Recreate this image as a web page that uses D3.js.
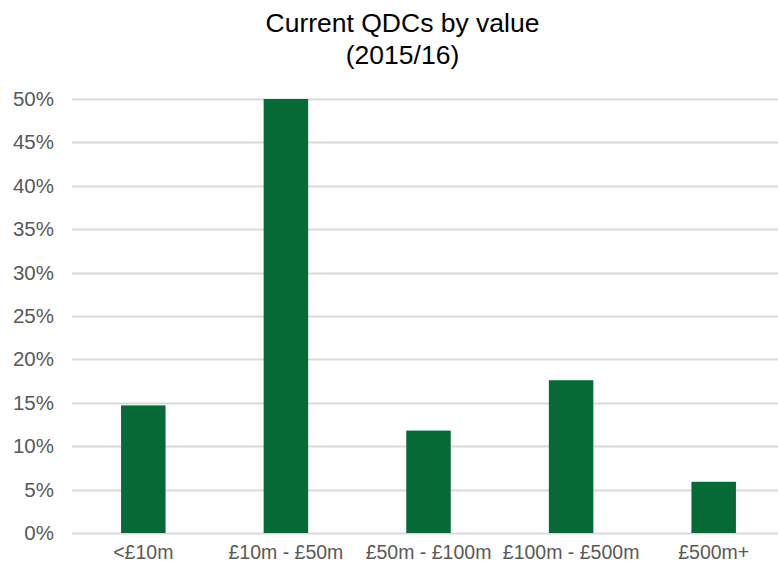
<!DOCTYPE html>
<html>
<head>
<meta charset="utf-8">
<script src="https://cdn.jsdelivr.net/npm/d3@7"></script>
<style>
  html, body { margin: 0; padding: 0; background: #fff; }
  svg { display: block; font-family: "Liberation Sans", Arial, sans-serif; }
</style>
</head>
<body>
<svg id="chart" width="778" height="565"></svg>
<script>
// QDC value bands and the share of current QDCs in each (2015/16)
const categories = ["<£10m", "£10m - £50m", "£50m - £100m", "£100m - £500m", "£500m+"];
const shares = [14.7, 50.0, 11.8, 17.6, 5.9];
const yTicks = [0, 5, 10, 15, 20, 25, 30, 35, 40, 45, 50];
const titleLines = ["Current QDCs by value", "(2015/16)"];

const svg = d3.select("#chart");
const margin = { top: 99, right: -7, bottom: 32, left: 72 };
const width = 778 - margin.left - margin.right;
const height = 565 - margin.top - margin.bottom;

const x = d3.scaleBand()
  .domain(categories)
  .range([margin.left, margin.left + width])
  .paddingInner(0.688)
  .paddingOuter(0.344);

const y = d3.scaleLinear()
  .domain([0, 50])
  .range([margin.top + height, margin.top]);

// gridlines
svg.append("g")
  .selectAll("line")
  .data(yTicks)
  .join("line")
  .attr("x1", margin.left)
  .attr("x2", 778)
  .attr("y1", d => Math.round(y(d)) + 0.5)
  .attr("y2", d => Math.round(y(d)) + 0.5)
  .attr("stroke", "#d9d9d9")
  .attr("stroke-width", 2);

// y axis labels
const yAxis = d3.axisLeft(y)
  .tickValues(yTicks)
  .tickFormat(d => d + "%")
  .tickSize(0)
  .tickPadding(18);
svg.append("g")
  .attr("transform", `translate(${margin.left},0)`)
  .call(yAxis)
  .call(g => g.select(".domain").remove())
  .call(g => g.selectAll("text")
    .attr("fill", "#595959")
    .attr("font-size", "20.5px")
    .attr("font-family", "Liberation Sans, Arial, sans-serif"));

// bars
svg.append("g")
  .selectAll("rect")
  .data(categories)
  .join("rect")
  .attr("x", d => x(d))
  .attr("width", x.bandwidth())
  .attr("y", (d, i) => y(shares[i]))
  .attr("height", (d, i) => y(0) - y(shares[i]))
  .attr("fill", "#066a37");

// x axis labels
const xAxis = d3.axisBottom(x).tickSize(0).tickPadding(12);
svg.append("g")
  .attr("transform", `translate(0,${y(0)})`)
  .call(xAxis)
  .call(g => g.select(".domain").remove())
  .call(g => g.selectAll("text")
    .attr("fill", "#595959")
    .attr("font-size", "19.5px")
    .attr("font-family", "Liberation Sans, Arial, sans-serif"));

// title
svg.append("g")
  .selectAll("text")
  .data(titleLines)
  .join("text")
  .attr("x", 402.5)
  .attr("y", (d, i) => 32 + i * 32)
  .attr("text-anchor", "middle")
  .attr("fill", "#000")
  .attr("font-size", "26.5px")
  .text(d => d);
</script>
</body>
</html>
